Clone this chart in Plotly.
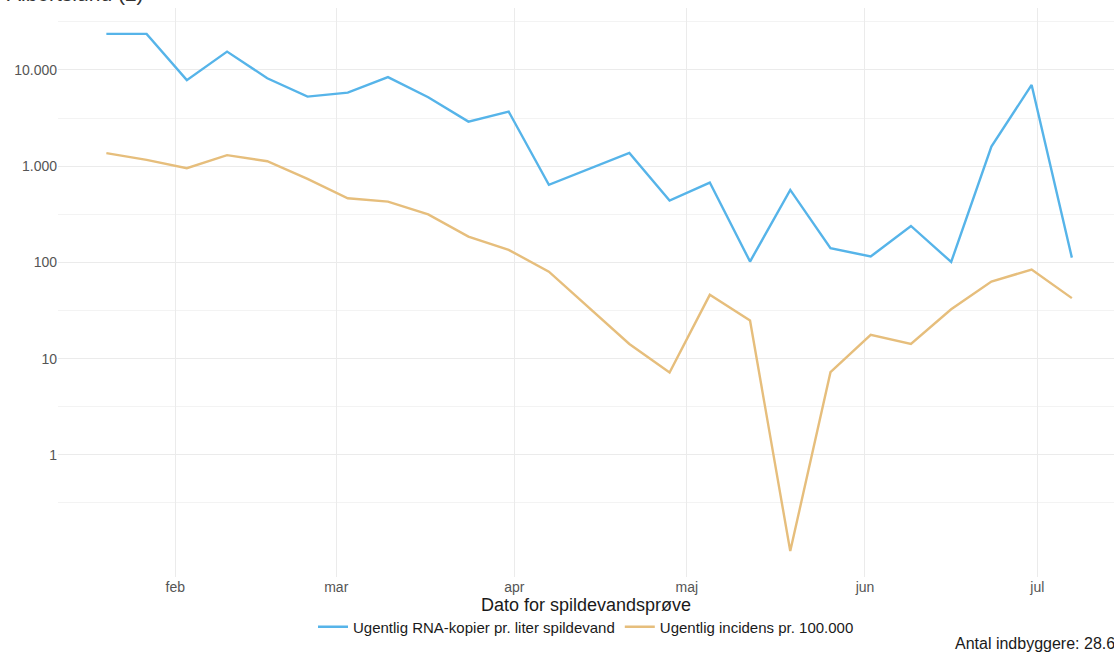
import plotly.graph_objects as go

dates = ["2021-01-20", "2021-01-27", "2021-02-03", "2021-02-10", "2021-02-17", "2021-02-24",
         "2021-03-03", "2021-03-10", "2021-03-17", "2021-03-24", "2021-03-31", "2021-04-07",
         "2021-04-14", "2021-04-21", "2021-04-28", "2021-05-05", "2021-05-12", "2021-05-19",
         "2021-05-26", "2021-06-02", "2021-06-09", "2021-06-16", "2021-06-23", "2021-06-30",
         "2021-07-07"]

rna_copies = [23660, 23660, 7820, 15490, 8190, 5280, 5810, 8400, 5200, 2900, 3690, 639,
              None, 1373, 439, 675, 102, 566, 140.5, 115, 239, 101, 1596, 6980, 112]

incidence = [1363, 1161, 952, 1300, 1125, 738, 464, 428, 315, 185, 135, 80,
             None, 14.2, 7.16, 46, 24.9, 0.1, 7.23, 17.7, 14.2, 32.6, 63.2, 84.2, 42.5]

series_names = ["Ugentlig RNA-kopier pr. liter spildevand", "Ugentlig incidens pr. 100.000"]
series_colors = ["#56B4E9", "#E6BE7C"]

month_ticks = ["2021-02-01", "2021-03-01", "2021-04-01", "2021-05-01", "2021-06-01", "2021-07-01"]
month_labels = ["feb", "mar", "apr", "maj", "jun", "jul"]

y_ticks = [1, 10, 100, 1000, 10000]
y_labels = ["1", "10", "100", "1.000", "10.000"]
y_minor = [10 ** (k + 0.5) for k in range(-1, 5)]

title_text = "Albertslund (2)"
x_title = "Dato for spildevandsprøve"
caption = "Antal indbyggere: 28.698"

FONT = "Liberation Sans, Arial, sans-serif"

fig = go.Figure()
for vals, name, col in zip([rna_copies, incidence], series_names, series_colors):
    fig.add_trace(go.Scatter(
        x=dates, y=vals, mode="lines", name=name, connectgaps=True,
        line=dict(color=col, width=2.4),
    ))

fig.update_layout(
    width=1114, height=653,
    margin=dict(l=58, r=0, t=8, b=76, autoexpand=False),
    paper_bgcolor="white", plot_bgcolor="white",
    font=dict(family=FONT, size=14, color="#4d4d4d"),
    showlegend=True,
    legend=dict(orientation="h", x=0.5, xanchor="center", y=-0.088, yanchor="middle",
                font=dict(size=15, color="#1a1a1a"), itemwidth=30,
                bgcolor="rgba(0,0,0,0)"),
    xaxis=dict(
        type="date", automargin=False,
        range=["2021-01-11 14:00", "2021-07-14 08:00"],
        tickmode="array", tickvals=month_ticks, ticktext=month_labels,
        showgrid=True, gridcolor="#ebebeb", gridwidth=1,
        zeroline=False, showline=False, ticks="",
        tickfont=dict(size=14, color="#555555"),
        title=dict(text=x_title, font=dict(size=18, color="#1a1a1a"), standoff=2),
    ),
    yaxis=dict(
        type="log", automargin=False,
        range=[-1.269, 4.643],
        tickmode="array", tickvals=y_ticks, ticktext=y_labels,
        showgrid=True, gridcolor="#ebebeb", gridwidth=1,
        minor=dict(tickmode="array", tickvals=y_minor, showgrid=True,
                   gridcolor="#f3f3f3", gridwidth=1, ticks=""),
        zeroline=False, showline=False, ticks="",
        tickfont=dict(size=14, color="#555555"),
    ),
    annotations=[
        dict(text=title_text, xref="paper", yref="paper", x=-0.05, y=1.0, yshift=1,
             xanchor="left", yanchor="bottom", showarrow=False,
             font=dict(size=21, color="#333333")),
        dict(text=caption, xref="paper", yref="paper", x=0.848, y=-0.116,
             xanchor="left", yanchor="middle", showarrow=False,
             font=dict(size=16, color="#1a1a1a")),
    ],
)

fig.write_html("out.html", config={"displayModeBar": False},
               post_script="document.body.style.margin='0';")
